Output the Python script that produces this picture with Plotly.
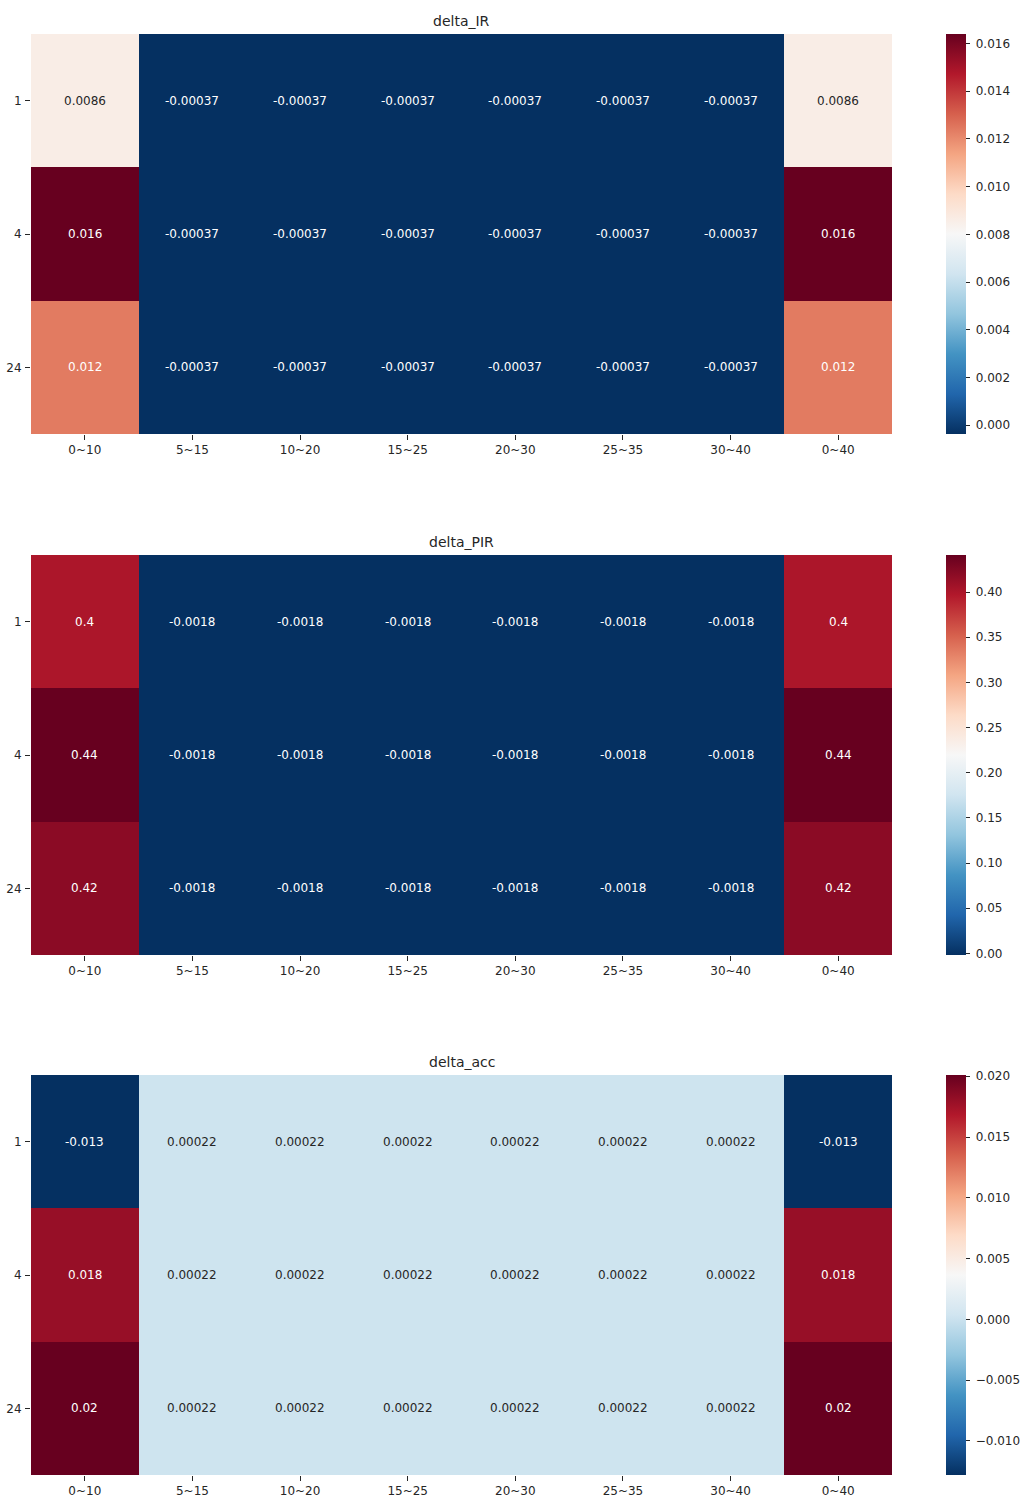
import plotly.graph_objects as go

# Row / column labels shared by all three heatmaps
rows = ["1", "4", "24"]
cols = ["0~10", "5~15", "10~20", "15~25", "20~30", "25~35", "30~40", "0~40"]

# Metric values per row (window length) and column (range)
delta_IR = [
    [0.0086, -0.00037, -0.00037, -0.00037, -0.00037, -0.00037, -0.00037, 0.0086],
    [0.0164, -0.00037, -0.00037, -0.00037, -0.00037, -0.00037, -0.00037, 0.0164],
    [0.0124, -0.00037, -0.00037, -0.00037, -0.00037, -0.00037, -0.00037, 0.0124],
]
delta_PIR = [
    [0.4, -0.0018, -0.0018, -0.0018, -0.0018, -0.0018, -0.0018, 0.4],
    [0.441, -0.0018, -0.0018, -0.0018, -0.0018, -0.0018, -0.0018, 0.441],
    [0.42, -0.0018, -0.0018, -0.0018, -0.0018, -0.0018, -0.0018, 0.42],
]
delta_acc = [
    [-0.0128, 0.00022, 0.00022, 0.00022, 0.00022, 0.00022, 0.00022, -0.0128],
    [0.018, 0.00022, 0.00022, 0.00022, 0.00022, 0.00022, 0.00022, 0.018],
    [0.0201, 0.00022, 0.00022, 0.00022, 0.00022, 0.00022, 0.00022, 0.0201],
]

titles = ["delta_IR", "delta_PIR", "delta_acc"]
panels = [delta_IR, delta_PIR, delta_acc]
cbar_ticks = [(0.002, ".3f"), (0.05, ".2f"), (0.005, ".3f")]

W, H = 1021, 1497
FONT = "DejaVu Sans"
TXT = "#262626"

# RdBu reversed (ColorBrewer RdBu, low = dark blue, high = dark red)
rdbu = ["#053061", "#2166ac", "#4393c3", "#92c5de", "#d1e5f0", "#f7f7f7",
        "#fddbc7", "#f4a582", "#d6604d", "#b2182b", "#67001f"]
colorscale = [[i / (len(rdbu) - 1), c] for i, c in enumerate(rdbu)]


def hex_rgb(h):
    h = h.lstrip("#")
    return tuple(int(h[i:i + 2], 16) / 255 for i in (0, 2, 4))


def scale_color(t):
    t = min(max(t, 0.0), 1.0)
    n = len(rdbu) - 1
    i = min(int(t * n), n - 1)
    f = t * n - i
    a, b = hex_rgb(rdbu[i]), hex_rgb(rdbu[i + 1])
    return tuple(a[k] + (b[k] - a[k]) * f for k in range(3))


def luminance(rgb):
    def lin(c):
        return c / 12.92 if c <= 0.03928 else ((c + 0.055) / 1.055) ** 2.4
    r, g, b = (lin(c) for c in rgb)
    return 0.2126 * r + 0.7152 * g + 0.0722 * b


# Pixel layout of each panel (top, bottom)
px_left, px_right = 31, 892
cb_left, cb_thick = 946, 20
panel_px = [(34, 434), (555, 955), (1075, 1475)]

fig = go.Figure()
annotations = []
layout_axes = {}
xi = list(range(len(cols)))
yi = list(range(len(rows)))

for k, (z, title, (dt, fmt), (top, bot)) in enumerate(zip(panels, titles, cbar_ticks, panel_px)):
    idx = "" if k == 0 else str(k + 1)
    xa, ya = "x" + idx, "y" + idx
    zmin = min(min(r) for r in z)
    zmax = max(max(r) for r in z)
    y0, y1 = 1 - bot / H, 1 - top / H
    fig.add_trace(go.Heatmap(
        z=z, x=xi, y=yi, xaxis=xa, yaxis=ya,
        colorscale=colorscale, zmin=zmin, zmax=zmax,
        xgap=0, ygap=0, hoverinfo="skip",
        colorbar=dict(
            x=cb_left / W, xanchor="left", xpad=0, ypad=0,
            thickness=cb_thick, thicknessmode="pixels",
            y=(y0 + y1) / 2, yanchor="middle", len=(y1 - y0), lenmode="fraction",
            outlinewidth=0, ticks="outside", ticklen=4, tickcolor=TXT,
            tick0=0, dtick=dt, tickformat=fmt, tickprefix="\u00a0",
            tickfont=dict(family=FONT, size=12, color=TXT),
        ),
    ))
    layout_axes["xaxis" + idx] = dict(
        domain=[px_left / W, px_right / W], anchor=ya,
        range=[-0.5, len(cols) - 0.5], tickmode="array", tickvals=xi, ticktext=cols,
        ticks="outside", ticklen=5, tickcolor=TXT, showgrid=False, zeroline=False,
        showline=False, tickfont=dict(family=FONT, size=12, color=TXT),
    )
    layout_axes["yaxis" + idx] = dict(
        domain=[y0, y1], anchor=xa,
        range=[len(rows) - 0.5, -0.5], tickmode="array", tickvals=yi, ticktext=rows,
        ticks="outside", ticklen=5, tickcolor=TXT, showgrid=False, zeroline=False,
        showline=False, ticklabelstandoff=1,
        tickfont=dict(family=FONT, size=12, color=TXT),
    )
    annotations.append(dict(
        text=title, xref="paper", yref="paper",
        x=(px_left + px_right) / 2 / W, y=1 - (top - 13) / H,
        xanchor="center", yanchor="middle", showarrow=False,
        font=dict(family=FONT, size=14, color=TXT),
    ))
    # Cell value labels, light or dark depending on the cell colour
    for r in yi:
        for c in xi:
            v = z[r][c]
            rgb = scale_color((v - zmin) / (zmax - zmin))
            color = TXT if luminance(rgb) > 0.408 else "white"
            annotations.append(dict(
                text=format(v, ".2g"), x=c, y=r, xref=xa, yref=ya,
                showarrow=False, font=dict(family=FONT, size=12, color=color),
            ))

fig.update_layout(
    width=W, height=H,
    margin=dict(l=0, r=0, t=0, b=0, pad=0, autoexpand=False),
    paper_bgcolor="white", plot_bgcolor="white",
    annotations=annotations, **layout_axes,
)

fig.write_html("out.html")
